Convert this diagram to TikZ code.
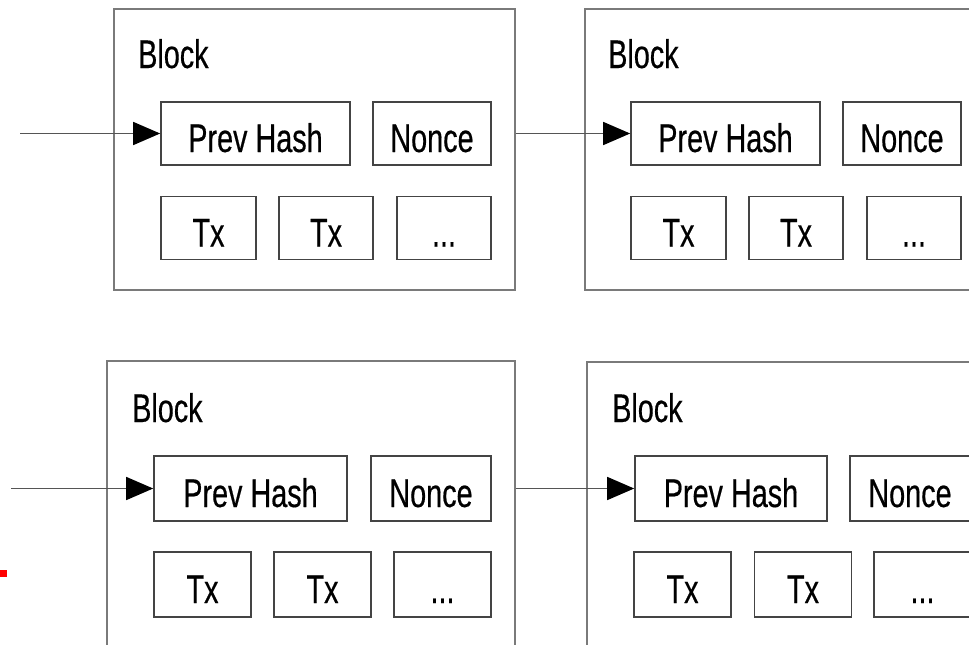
\documentclass[tikz,border=0pt]{standalone}
\usepackage{fontspec}
\usetikzlibrary{arrows.meta}
\newfontfamily\diagfont[FakeStretch=0.72,FakeBold=0.4]{Liberation Sans}
\definecolor{outergray}{HTML}{7A7A7A}
\definecolor{cellgray}{HTML}{444444}
\definecolor{arrgray}{HTML}{555555}
\tikzset{
  blockbox/.style={draw=outergray, line width=1.4pt, inner sep=0pt},
  cell/.style={draw=cellgray, line width=1.6pt, inner sep=0pt, text height=37pt, text depth=0pt,
    font=\diagfont\fontsize{40}{46}\selectfont},
  topcell/.style={cell, minimum height=63pt},
  botcell/.style={cell, minimum height=65pt},
  blocklabel/.style={anchor=base west, inner sep=0pt, font=\diagfont\fontsize{40}{46}\selectfont},
  link/.style={draw=arrgray, line width=1.4pt, -{Triangle[length=27pt,width=23pt,fill=black,color=black]}}
}
\begin{document}
\begin{tikzpicture}[x=1pt,y=-1pt]
\useasboundingbox (0,0) rectangle (969,645);
\clip (0,0) rectangle (969,645);
% ---------- top row ----------
\node[blockbox, minimum width=401pt, minimum height=281pt] (bT1) at (314.5,149.5) {};
\node[blockbox, minimum width=420pt, minimum height=281pt] (bT2) at (795,149.5) {};
\node[blocklabel] (lT1) at (138,68) {Block};
\node[blocklabel] (lT2) at (608,68) {Block};
\node[topcell, minimum width=189pt] (phT1) at (255.5,133.5) {Prev Hash};
\node[topcell, minimum width=118pt] (nT1) at (432,133.5) {Nonce};
\node[topcell, minimum width=95pt] (txaT1) at (208.5,228) {Tx};
\node[topcell, minimum width=94pt] (txbT1) at (326,228) {Tx};
\node[topcell, minimum width=94pt] (dT1) at (444,228) {...};
\node[topcell, minimum width=189pt] (phT2) at (725.5,133.5) {Prev Hash};
\node[topcell, minimum width=118pt] (nT2) at (902,133.5) {Nonce};
\node[topcell, minimum width=95pt] (txaT2) at (678.5,228) {Tx};
\node[topcell, minimum width=94pt] (txbT2) at (796,228) {Tx};
\node[topcell, minimum width=94pt] (dT2) at (914,228) {...};
\coordinate (inT) at (20,133.5);
\draw[link] (inT) -- (phT1.west);
\draw[link] (bT1.east |- phT2.west) -- (phT2.west);
% ---------- bottom row ----------
\node[blockbox, minimum width=408pt, minimum height=340pt] (bB1) at (311,531) {};
\node[blockbox, minimum width=420pt, minimum height=340pt] (bB2) at (797,532) {};
\node[blocklabel] (lB1) at (132,422) {Block};
\node[blocklabel] (lB2) at (612,422) {Block};
\node[botcell, minimum width=193pt] (phB1) at (250.5,488.5) {Prev Hash};
\node[botcell, minimum width=120pt] (nB1) at (431,488.5) {Nonce};
\node[botcell, minimum width=97pt] (txaB1) at (202.5,584.5) {Tx};
\node[botcell, minimum width=97pt] (txbB1) at (322.5,584.5) {Tx};
\node[botcell, minimum width=97pt] (dB1) at (442.5,584.5) {...};
\node[botcell, minimum width=192pt] (phB2) at (731,488.5) {Prev Hash};
\node[botcell, minimum width=120pt] (nB2) at (910,488.5) {Nonce};
\node[botcell, minimum width=97pt] (txaB2) at (682.5,584.5) {Tx};
\node[botcell, minimum width=97pt] (txbB2) at (803,584.5) {Tx};
\node[botcell, minimum width=97pt] (dB2) at (922.5,584.5) {...};
\coordinate (inB) at (11,488.5);
\draw[link] (inB) -- (phB1.west);
\draw[link] (bB1.east |- phB2.west) -- (phB2.west);
% red mark
\fill[red] (0,570) rectangle (7,577);
\end{tikzpicture}
\end{document}
